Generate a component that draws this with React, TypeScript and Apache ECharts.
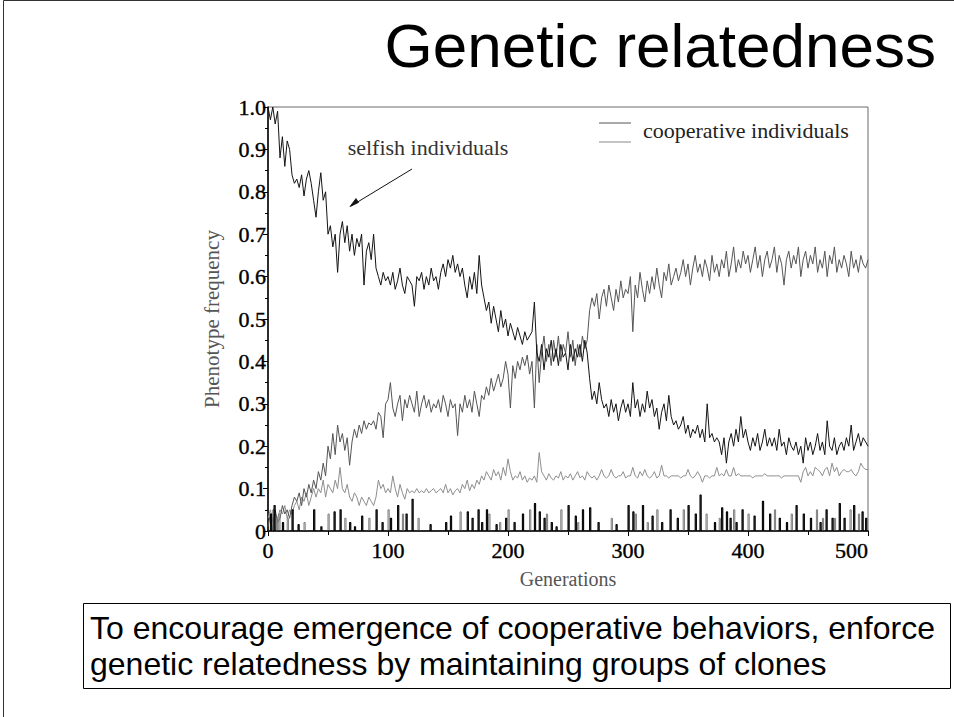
import React, { useEffect, useRef } from "react";
import * as echarts from "echarts";

// Generations are sampled every 2 steps for the three frequency curves.
const GEN_STEP = 2;
const GEN_MAX = 500;
const X_TICKS = [0, 100, 200, 300, 400, 500];
const Y_TICKS = [0, 0.1, 0.2, 0.3, 0.4, 0.5, 0.6, 0.7, 0.8, 0.9, 1.0];

// Selfish individuals (black curve)
const selfish = [
  1.0, 0.97, 1.0, 0.96, 0.99, 0.88, 0.93, 0.86, 0.92, 0.9,
  0.84, 0.82, 0.83, 0.81, 0.84, 0.79, 0.83, 0.85, 0.82, 0.78,
  0.74, 0.8, 0.845, 0.78, 0.8, 0.7, 0.72, 0.67, 0.7, 0.61,
  0.7, 0.73, 0.68, 0.72, 0.66, 0.7, 0.65, 0.69, 0.67, 0.7,
  0.58, 0.66, 0.68, 0.64, 0.7, 0.62, 0.6, 0.58, 0.61, 0.59,
  0.6, 0.58, 0.61, 0.57, 0.59, 0.62, 0.58, 0.56, 0.6, 0.59,
  0.58, 0.53, 0.6, 0.59, 0.61, 0.57, 0.6, 0.58, 0.62, 0.59,
  0.6, 0.57, 0.61, 0.63, 0.6, 0.64, 0.62, 0.65, 0.61, 0.63,
  0.6, 0.62, 0.58, 0.55, 0.6, 0.57, 0.61, 0.56, 0.65, 0.58,
  0.55, 0.52, 0.54, 0.49, 0.53, 0.5, 0.47, 0.52, 0.48, 0.5,
  0.46, 0.49, 0.47, 0.45, 0.48, 0.46, 0.44, 0.47, 0.45, 0.46,
  0.47, 0.54, 0.42, 0.4, 0.44, 0.38, 0.43, 0.41, 0.45, 0.4,
  0.43, 0.39, 0.44, 0.41, 0.42, 0.38, 0.44, 0.4, 0.43, 0.41,
  0.44, 0.4, 0.45, 0.42, 0.36, 0.31, 0.33, 0.3, 0.35, 0.31,
  0.29, 0.3, 0.27, 0.31, 0.28, 0.3, 0.26, 0.29, 0.31, 0.28,
  0.3, 0.27, 0.35, 0.29, 0.31, 0.27, 0.3, 0.28, 0.33, 0.29,
  0.31, 0.27, 0.29, 0.24, 0.28, 0.3, 0.26, 0.32, 0.27, 0.25,
  0.26, 0.24, 0.25, 0.27, 0.23, 0.25, 0.22, 0.24, 0.23, 0.25,
  0.22, 0.24, 0.21, 0.3, 0.22, 0.23, 0.21, 0.22, 0.21, 0.18,
  0.22, 0.16, 0.21, 0.23, 0.2, 0.24, 0.21, 0.27, 0.22, 0.24,
  0.21, 0.19, 0.22, 0.2, 0.23, 0.19, 0.21, 0.24, 0.2, 0.22,
  0.2, 0.22, 0.19, 0.24, 0.2, 0.21, 0.18, 0.22, 0.2, 0.19,
  0.21, 0.18, 0.2, 0.16, 0.22, 0.19, 0.21, 0.18, 0.2, 0.23,
  0.19, 0.21, 0.18, 0.26, 0.2, 0.19, 0.22, 0.18, 0.2, 0.21,
  0.19, 0.22, 0.2, 0.25, 0.19, 0.21, 0.23, 0.2, 0.22, 0.21,
  0.2,
];

// Cooperative individuals (dark grey curve)
const cooperative = [
  0.01, 0.04, 0.0, 0.05, 0.02, 0.03, 0.06, 0.04, 0.05, 0.03,
  0.06, 0.08, 0.07, 0.09, 0.06, 0.1, 0.08, 0.11, 0.09, 0.12,
  0.1, 0.14, 0.12, 0.16, 0.13, 0.2, 0.17, 0.23, 0.18, 0.25,
  0.21, 0.23, 0.19, 0.22, 0.155, 0.21, 0.24, 0.22, 0.25, 0.23,
  0.26, 0.24, 0.255, 0.25, 0.26, 0.24, 0.28, 0.27, 0.22, 0.3,
  0.31, 0.35, 0.29, 0.27, 0.3, 0.32, 0.26, 0.31, 0.29, 0.32,
  0.3, 0.28, 0.33, 0.27, 0.3, 0.32, 0.29, 0.31, 0.28, 0.3,
  0.29, 0.31, 0.28, 0.32, 0.3, 0.27, 0.31, 0.29, 0.3, 0.225,
  0.3, 0.28, 0.32, 0.29, 0.31, 0.28, 0.33, 0.3, 0.27, 0.32,
  0.31, 0.34, 0.32, 0.36, 0.33, 0.35, 0.37, 0.34, 0.36, 0.4,
  0.37, 0.29, 0.39, 0.36, 0.4, 0.38, 0.41, 0.39, 0.415, 0.37,
  0.4, 0.29, 0.44, 0.35, 0.42, 0.46, 0.4, 0.44, 0.39, 0.45,
  0.41, 0.46, 0.4, 0.44, 0.42, 0.47, 0.41, 0.45, 0.39, 0.44,
  0.41, 0.46, 0.43, 0.45, 0.52, 0.55, 0.53, 0.56, 0.5, 0.55,
  0.57, 0.53, 0.58, 0.55, 0.52, 0.57, 0.54, 0.59, 0.55, 0.57,
  0.56, 0.6, 0.47, 0.58, 0.55, 0.61, 0.57, 0.54, 0.59, 0.56,
  0.6, 0.57, 0.62, 0.58, 0.55, 0.61, 0.59, 0.63, 0.58, 0.6,
  0.62, 0.59, 0.61, 0.64, 0.6, 0.63, 0.58, 0.62, 0.65, 0.61,
  0.63, 0.6, 0.64, 0.62, 0.59, 0.65, 0.61, 0.63, 0.6, 0.64,
  0.62, 0.66, 0.6, 0.63, 0.67, 0.61, 0.64, 0.62, 0.66, 0.63,
  0.65, 0.61, 0.64, 0.67, 0.62, 0.65, 0.6, 0.64, 0.66, 0.62,
  0.64, 0.67, 0.61, 0.65, 0.63, 0.58, 0.64, 0.66, 0.62, 0.65,
  0.63, 0.67, 0.6, 0.64, 0.66, 0.62, 0.65, 0.63, 0.67, 0.61,
  0.64, 0.62, 0.66, 0.6, 0.65, 0.63, 0.67, 0.61, 0.64, 0.62,
  0.65, 0.63, 0.6, 0.66, 0.62, 0.64, 0.61, 0.65, 0.63, 0.62,
  0.64,
];

// Third phenotype (light grey curve)
const lightCurve = [
  0.03, 0.05, 0.02, 0.04, 0.03, 0.05, 0.04, 0.06, 0.03, 0.05,
  0.04, 0.06, 0.07, 0.05, 0.08, 0.07, 0.09, 0.06, 0.08, 0.1,
  0.08, 0.1, 0.09, 0.12, 0.08, 0.11, 0.1, 0.09, 0.12, 0.1,
  0.15, 0.1, 0.09, 0.11, 0.08, 0.07, 0.09, 0.08, 0.06, 0.08,
  0.07, 0.06, 0.08, 0.07, 0.06, 0.08, 0.12, 0.1, 0.11, 0.09,
  0.1, 0.09, 0.13, 0.1, 0.08, 0.11, 0.09, 0.075, 0.1, 0.09,
  0.095, 0.09, 0.1, 0.09, 0.095, 0.09, 0.1, 0.09, 0.095, 0.1,
  0.09, 0.095, 0.1, 0.09, 0.11, 0.09, 0.1, 0.085, 0.095, 0.1,
  0.09, 0.11, 0.1, 0.12, 0.095, 0.11, 0.1, 0.12, 0.11, 0.13,
  0.12, 0.14, 0.13, 0.12, 0.145, 0.13, 0.14, 0.12, 0.15, 0.13,
  0.17, 0.14, 0.12, 0.13, 0.125, 0.14, 0.12, 0.13, 0.115, 0.125,
  0.12, 0.13, 0.115, 0.185, 0.14, 0.13, 0.12, 0.135, 0.125, 0.12,
  0.13, 0.125, 0.14, 0.12, 0.13, 0.125, 0.135, 0.12, 0.13, 0.14,
  0.125, 0.13, 0.12, 0.14, 0.13, 0.125, 0.13, 0.12, 0.13, 0.145,
  0.13, 0.125, 0.13, 0.145, 0.13, 0.125, 0.13, 0.13, 0.14, 0.125,
  0.13, 0.13, 0.15, 0.13, 0.125, 0.14, 0.13, 0.145, 0.13, 0.125,
  0.13, 0.14, 0.125, 0.13, 0.155, 0.13, 0.13, 0.125, 0.13, 0.13,
  0.13, 0.13, 0.125, 0.13, 0.13, 0.145, 0.13, 0.125, 0.13, 0.14,
  0.13, 0.115, 0.13, 0.13, 0.125, 0.13, 0.13, 0.15, 0.13, 0.135,
  0.13, 0.145, 0.13, 0.13, 0.15, 0.13, 0.135, 0.13, 0.13, 0.13,
  0.13, 0.13, 0.125, 0.13, 0.13, 0.13, 0.13, 0.135, 0.13, 0.13,
  0.13, 0.13, 0.13, 0.13, 0.125, 0.13, 0.13, 0.13, 0.13, 0.13,
  0.13, 0.13, 0.115, 0.14, 0.15, 0.13, 0.14, 0.13, 0.15, 0.145,
  0.14, 0.13, 0.145, 0.15, 0.13, 0.16, 0.14, 0.15, 0.13, 0.14,
  0.145, 0.14, 0.14, 0.145, 0.135, 0.13, 0.14, 0.16, 0.15, 0.145,
  0.145,
];

// Short-lived bursts near zero: [generation, frequency]
const blackBursts: [number, number][] = [
  [2, 0.04], [5, 0.06], [12, 0.02], [20, 0.05], [25, 0.015], [38, 0.05],
  [44, 0.01], [55, 0.045], [60, 0.05], [68, 0.02], [72, 0.01], [78, 0.035],
  [90, 0.05], [95, 0.02], [102, 0.03], [108, 0.06], [115, 0.04], [120, 0.075],
  [135, 0.015], [148, 0.02], [152, 0.035], [166, 0.045], [170, 0.03], [175, 0.05],
  [178, 0.02], [182, 0.05], [190, 0.015], [198, 0.03], [205, 0.02], [212, 0.04],
  [222, 0.065], [226, 0.045], [230, 0.03], [236, 0.02], [240, 0.01], [250, 0.06],
  [256, 0.035], [262, 0.05], [268, 0.055], [275, 0.02], [290, 0.015], [300, 0.06],
  [304, 0.045], [312, 0.06], [320, 0.035], [328, 0.02], [335, 0.05], [341, 0.03],
  [350, 0.06], [356, 0.04], [360, 0.085], [372, 0.02], [378, 0.055], [382, 0.045],
  [385, 0.03], [390, 0.02], [395, 0.05], [405, 0.035], [412, 0.07], [418, 0.04],
  [426, 0.03], [432, 0.02], [440, 0.06], [446, 0.04], [452, 0.03], [460, 0.02],
  [465, 0.05], [470, 0.03], [476, 0.065], [480, 0.03], [488, 0.06], [495, 0.045],
  [498, 0.03],
];

const greyBursts: [number, number][] = [
  [4, 0.05], [7, 0.03], [9, 0.04], [16, 0.03], [30, 0.02], [50, 0.04],
  [64, 0.03], [84, 0.03], [100, 0.05], [112, 0.04], [125, 0.03], [160, 0.045],
  [184, 0.04], [193, 0.02], [200, 0.05], [218, 0.05], [232, 0.04], [244, 0.05],
  [258, 0.02], [286, 0.03], [306, 0.04], [316, 0.02], [324, 0.05], [346, 0.05],
  [365, 0.04], [376, 0.03], [388, 0.05], [400, 0.04], [422, 0.05], [436, 0.04],
  [457, 0.05], [462, 0.03], [472, 0.03], [485, 0.05], [492, 0.04],
];

const SERIF = "'Liberation Serif', 'DejaVu Serif', serif";
const SANS = "'Liberation Sans', Arial, sans-serif";

const toPairs = (vals: number[]) => vals.map((v, i) => [i * GEN_STEP, v]);

const burstLine = (bursts: [number, number][]) => {
  const pts: number[][] = [[0, 0]];
  bursts.forEach(([g, v]) => {
    pts.push([g, v]);
    pts.push([g + 1, 0]);
  });
  pts.push([GEN_MAX, 0]);
  return pts;
};

const lineSeries = (
  name: string,
  data: number[][],
  color: string,
  width: number,
  step: false | "end"
) => ({
  name,
  type: "line",
  data,
  step,
  symbol: "none",
  lineStyle: { color, width },
  z: 3,
});

const tickLabel = {
  fontFamily: SERIF,
  fontSize: 22,
  color: "#000",
  textBorderColor: "#000",
  textBorderWidth: 0.4,
};

export default function App() {
  const ref = useRef<HTMLDivElement>(null);

  useEffect(() => {
    if (!ref.current) return;
    const chart = echarts.init(ref.current, null, { renderer: "svg" });

    chart.setOption({
      animation: false,
      backgroundColor: "#ffffff",
      grid: {
        left: 268,
        top: 107,
        width: 600,
        height: 424,
        show: true,
        borderColor: "#6a6a6a",
        borderWidth: 1,
      },
      xAxis: {
        type: "value",
        min: 0,
        max: GEN_MAX,
        interval: 100,
        name: "Generations",
        nameLocation: "middle",
        nameGap: 38,
        nameTextStyle: { fontFamily: SERIF, fontSize: 20, color: "#555" },
        axisLine: { show: true, onZero: false, lineStyle: { color: "#000", width: 1.5 } },
        axisTick: { show: true, length: 5, inside: false, lineStyle: { color: "#000" } },
        minorTick: { show: true, splitNumber: 2, length: 4, lineStyle: { color: "#000" } },
        splitLine: { show: false },
        axisLabel: {
          ...tickLabel,
          margin: 8,
          alignMaxLabel: "right",
          customValues: X_TICKS,
        },
      },
      yAxis: {
        type: "value",
        min: 0,
        max: 1,
        interval: 0.1,
        name: "Phenotype frequency",
        nameLocation: "middle",
        nameRotate: 90,
        nameGap: 46,
        nameTextStyle: { fontFamily: SERIF, fontSize: 21, color: "#555" },
        axisLine: { show: true, onZero: false, lineStyle: { color: "#000", width: 1.5 } },
        axisTick: { show: true, length: 5, lineStyle: { color: "#000" } },
        minorTick: { show: true, splitNumber: 2, length: 3, lineStyle: { color: "#000" } },
        splitLine: { show: false },
        axisLabel: {
          ...tickLabel,
          margin: 2,
          customValues: Y_TICKS,
          formatter: (v: number) => (v === 0 ? "0" : v.toFixed(1)),
        },
      },
      series: [
        lineSeries("light", toPairs(lightCurve), "#8e8e8e", 1, false),
        lineSeries("cooperative individuals", toPairs(cooperative), "#555555", 1, false),
        lineSeries("selfish individuals", toPairs(selfish), "#141414", 1, false),
        lineSeries("grey bursts", burstLine(greyBursts), "#7a7a7a", 1, "end"),
        lineSeries("black bursts", burstLine(blackBursts), "#000000", 1.1, "end"),
      ],
      graphic: [
        // slide frame
        {
          type: "polyline",
          shape: { points: [[3.5, 717], [3.5, 0.5], [954, 0.5]] },
          style: { stroke: "#333", lineWidth: 1, fill: "none" },
          silent: true,
        },
        {
          type: "text",
          x: 936,
          y: 45,
          style: {
            text: "Genetic relatedness",
            font: `62px ${SANS}`,
            fill: "#000",
            align: "right",
            verticalAlign: "middle",
          },
        },
        // legend
        {
          type: "line",
          shape: { x1: 599, y1: 123, x2: 631, y2: 123 },
          style: { stroke: "#555", lineWidth: 1 },
        },
        {
          type: "line",
          shape: { x1: 599, y1: 142, x2: 631, y2: 142 },
          style: { stroke: "#888", lineWidth: 1 },
        },
        {
          type: "text",
          x: 643,
          y: 130,
          style: {
            text: "cooperative individuals",
            font: `22px ${SERIF}`,
            fill: "#222",
            align: "left",
            verticalAlign: "middle",
          },
        },
        // annotation
        {
          type: "text",
          x: 428,
          y: 147,
          style: {
            text: "selfish individuals",
            font: `22px ${SERIF}`,
            fill: "#333",
            align: "center",
            verticalAlign: "middle",
          },
        },
        {
          type: "line",
          shape: { x1: 412, y1: 169, x2: 351, y2: 206 },
          style: { stroke: "#111", lineWidth: 1 },
        },
        {
          type: "polygon",
          shape: { points: [[350, 206.5], [356, 198.5], [358.5, 202.5]] },
          style: { fill: "#111", stroke: "#111", lineWidth: 0.8 },
        },
        // caption box
        {
          type: "rect",
          shape: { x: 83.5, y: 603.5, width: 867, height: 85 },
          style: { fill: "#fff", stroke: "#000", lineWidth: 1 },
        },
        {
          type: "text",
          x: 90,
          y: 628,
          style: {
            text: "To encourage emergence of cooperative behaviors, enforce",
            font: `32px ${SANS}`,
            fill: "#000",
            align: "left",
            verticalAlign: "middle",
          },
        },
        {
          type: "text",
          x: 90,
          y: 664,
          style: {
            text: "genetic relatedness by maintaining groups of clones",
            font: `32px ${SANS}`,
            fill: "#000",
            align: "left",
            verticalAlign: "middle",
          },
        },
      ],
    });

    return () => chart.dispose();
  }, []);

  return (
    <div
      ref={ref}
      style={{ position: "fixed", left: 0, top: 0, width: 954, height: 717, background: "#fff" }}
    />
  );
}
